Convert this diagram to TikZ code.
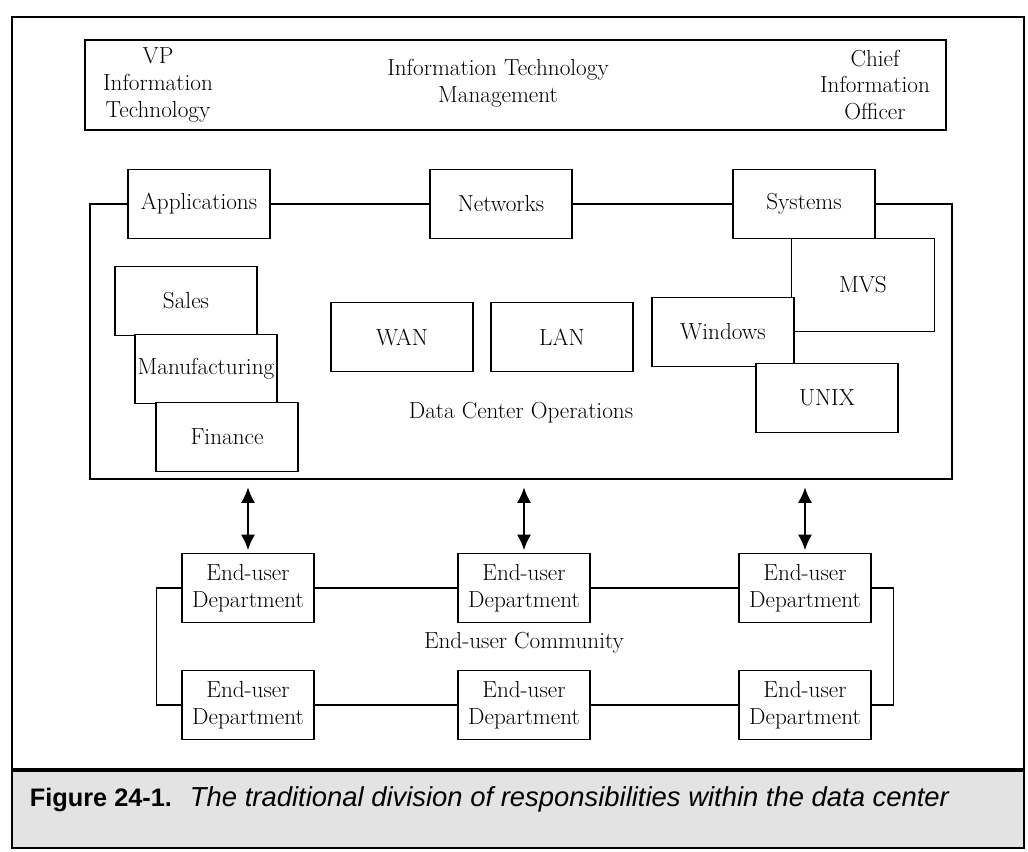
\documentclass[tikz,border=0pt]{standalone}
\usepackage{fontspec}
\usetikzlibrary{arrows.meta}
\newfontfamily\capfont{Liberation Sans}
\newcommand\boxfont{\fontsize{16.5}{19}\selectfont}

\begin{document}
\begin{tikzpicture}[x=0.025cm, y=-0.025cm,
  txt/.style={font=\boxfont, align=center, inner sep=0pt},
  unitbox/.style={txt, draw, fill=white, line width=0.9pt, minimum width=3.55cm, minimum height=1.725cm},
  deptbox/.style={unitbox, minimum width=3.3cm},
  link/.style={line width=0.8pt},
  dbl/.style={line width=1pt, {Latex[length=11pt,width=10pt]}-{Latex[length=11pt,width=10pt]}}]
\useasboundingbox (0,0) rectangle (1028,852);

% frame and caption
\fill[gray!22] (12,770) rectangle (1024,848);
\draw[line width=1.4pt] (12,848) -- (12,17) -- (1024,17) -- (1024,848) -- cycle;
\draw[line width=2.4pt] (12,770) -- (1024,770);
\node[anchor=west, font=\capfont\bfseries\fontsize{18}{21}\selectfont] (fig) at (25,800) {Figure 24-1.};
\node[anchor=west, font=\capfont\itshape\fontsize{19.5}{22}\selectfont] (cap) at (185,799) {The traditional division of responsibilities within the data center};

% management
\node[draw, line width=0.9pt, minimum width=21.525cm, minimum height=2.25cm] (itm) at (515.5,85) {};
\node[txt] (vp) at (158,85) {VP\\Information\\Technology};
\node[txt] (itmtxt) at (498,83) {Information Technology\\Management};
\node[txt] (cio) at (875,85) {Chief\\Information\\Officer};

% data center
\node[unitbox] (app) at (199,204) {Applications};
\node[unitbox] (net) at (501,204) {Networks};
\node[unitbox] (sys) at (804,204) {Systems};
\coordinate (dcl) at (90,479);
\coordinate (dcr) at (952,479);
\draw[link] (app.west) -| (dcl) -- (dcr) |- (sys.east);
\draw[link] (app) -- (net) -- (sys);

\node[unitbox] (sales) at (186,301) {Sales};
\node[unitbox] (manu) at (206,369) {Manufacturing};
\node[unitbox] (fin) at (227,437) {Finance};
\node[unitbox] (wan) at (402,337) {WAN};
\node[unitbox] (lan) at (562,337) {LAN};
\node[unitbox, minimum width=3.575cm, minimum height=2.325cm] (mvs) at (863,285) {MVS};
\node[unitbox] (win) at (723,332) {Windows};
\node[unitbox] (unix) at (827,398) {UNIX};
\node[txt] (dco) at (521,413) {Data Center Operations};

% end users
\node[deptbox] (eu1) at (248,588) {End-user\\Department};
\node[deptbox] (eu2) at (524,588) {End-user\\Department};
\node[deptbox] (eu3) at (805,588) {End-user\\Department};
\node[deptbox] (eu4) at (248,705) {End-user\\Department};
\node[deptbox] (eu5) at (524,705) {End-user\\Department};
\node[deptbox] (eu6) at (805,705) {End-user\\Department};
\node[txt] (euc) at (524,643) {End-user Community};

\draw[link] (eu1) -- (eu2) -- (eu3);
\draw[link] (eu4) -- (eu5) -- (eu6);
\draw[link] (eu1.west) -- ++(-25,0) |- (eu4.west);
\draw[link] (eu3.east) -- ++(22,0) |- (eu6.east);

\foreach \d in {eu1,eu2,eu3}
  \draw[dbl, shorten <=6pt, shorten >=2pt] (\d.north |- dcl) -- (\d.north);
\end{tikzpicture}
\end{document}
